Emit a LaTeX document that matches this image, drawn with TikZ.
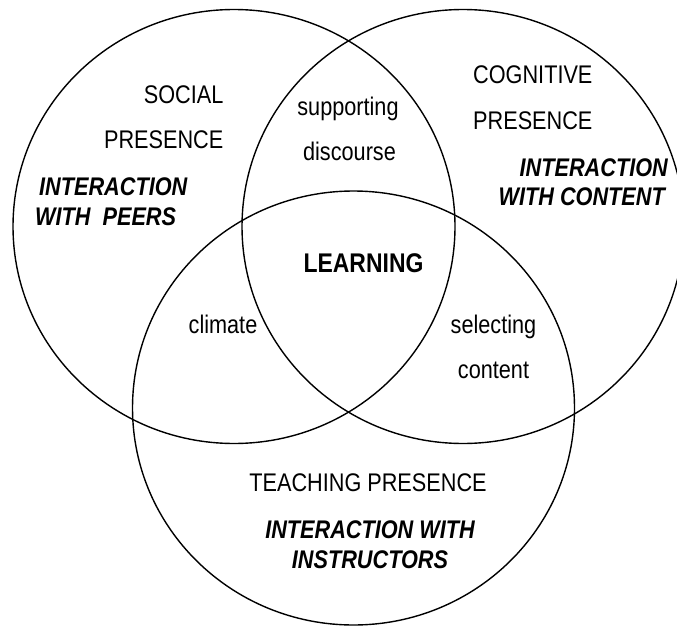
\documentclass[tikz,border=0pt]{standalone}
\usepackage{fontspec}
\setmainfont[FakeStretch=0.85]{Liberation Sans}
\usetikzlibrary{shapes.geometric}
\begin{document}
\begin{tikzpicture}[x=1pt,y=-1pt,
  ring/.style={draw=black, line width=1.4pt, ellipse, minimum width=442pt, minimum height=434pt, inner sep=0pt},
  lbl/.style={inner sep=0pt, font=\fontsize{25.5}{30}\selectfont},
  emph/.style={inner sep=0pt, font=\fontsize{25.5}{30}\selectfont\bfseries\itshape},
  core/.style={inner sep=0pt, font=\fontsize{27}{32}\selectfont\bfseries}]
\useasboundingbox (0,0) rectangle (677,626);
\clip (0,0) rectangle (677,626);
\node[ring] (social) at (234,226.5) {};
\node[ring] (cognitive) at (463,226.5) {};
\node[ring] (teaching) at (353.5,408) {};
% social presence
\node[lbl, anchor=base east] (s1) at (223.5,103.3) {SOCIAL};
\node[lbl, anchor=base east] (s2) at (223.5,148.3) {PRESENCE};
\node[emph, anchor=base west] (s3) at (39,195.6) {INTERACTION};
\node[emph, anchor=base west] (s4) at (35,225.5) {WITH\ \ PEERS};
% overlap social/cognitive
\node[lbl, anchor=base] (d1) at (348,115) {supporting};
\node[lbl, anchor=base] (d2) at (349.5,160) {discourse};
% cognitive presence
\node[lbl, anchor=base west] (c1) at (473,84) {COGNITIVE};
\node[lbl, anchor=base west] (c2) at (473,129.3) {PRESENCE};
\node[emph, anchor=base east] (c3) at (668,176) {INTERACTION};
\node[emph, anchor=base east] (c4) at (665,205) {WITH CONTENT};
% centre
\node[core, anchor=base] (learn) at (363.5,272.7) {LEARNING};
% other overlaps
\node[lbl, anchor=base] (cl) at (223,333.3) {climate};
\node[lbl, anchor=base] (sc1) at (493.5,333.3) {selecting};
\node[lbl, anchor=base] (sc2) at (493.5,378.3) {content};
% teaching presence
\node[lbl, anchor=base] (t1) at (368,491.7) {TEACHING PRESENCE};
\node[emph, anchor=base] (t2) at (370,538.3) {INTERACTION WITH};
\node[emph, anchor=base] (t3) at (370,568.3) {INSTRUCTORS};
\end{tikzpicture}
\end{document}
